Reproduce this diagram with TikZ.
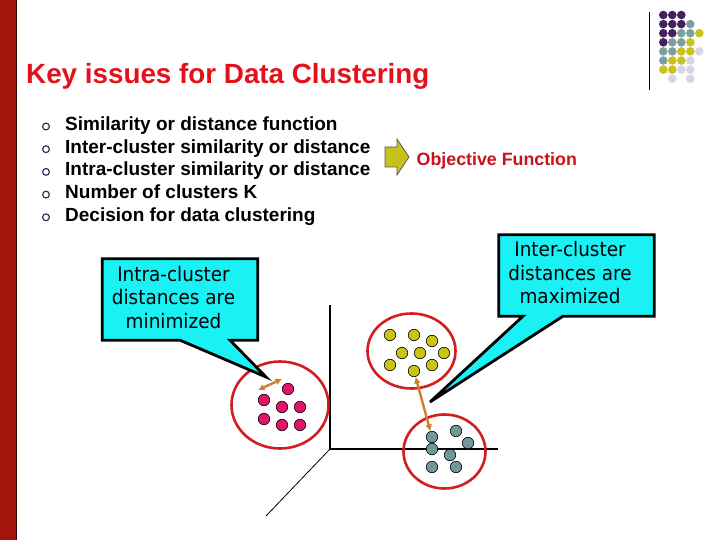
\documentclass[tikz,border=0pt]{standalone}
\usepackage{fontspec}
\setmainfont{Liberation Sans}
\newfontfamily\callfont{DejaVu Sans}[FakeStretch=0.92]
\usetikzlibrary{arrows.meta,shapes.geometric}
\definecolor{barred}{HTML}{A3140A}
\definecolor{bardark}{HTML}{3A0A05}
\definecolor{titlered}{HTML}{E2111C}
\definecolor{objred}{HTML}{CC1019}
\definecolor{bulletpurple}{HTML}{3D1A55}
\definecolor{logopurple}{HTML}{44215E}
\definecolor{logoteal}{HTML}{7D9FA0}
\definecolor{logoyellow}{HTML}{C8C21E}
\definecolor{logolav}{HTML}{D5D5E5}
\definecolor{callcyan}{HTML}{19F1F5}
\definecolor{ringred}{HTML}{D21E1E}
\definecolor{pinkdot}{HTML}{E3156B}
\definecolor{yellowdot}{HTML}{C9C415}
\definecolor{tealdot}{HTML}{6F9899}
\definecolor{arroworange}{HTML}{CD7F2E}
\definecolor{arrowyellow}{HTML}{C5C21A}

\begin{document}
\begin{tikzpicture}[x=1pt, y=-1pt, >={Latex[length=6.5pt,width=7pt]},
  item/.style={anchor=base west, inner sep=0pt, font=\bfseries\fontsize{19}{22}\selectfont},
  bulletring/.style={draw=bulletpurple, line width=1.1pt},
  ring/.style={ellipse, draw=ringred, line width=2.6pt, inner sep=0pt},
  dot/.style={circle, draw=black, line width=0.6pt, inner sep=0pt, minimum size=11.5pt},
  distarrow/.style={<->, draw=arroworange, line width=2.4pt},
  callbox/.style={inner sep=0pt, minimum width=155pt, minimum height=81pt},
  callout/.style={draw=black, fill=callcyan, line width=2.8pt},
  calltext/.style={align=center, font=\callfont\fontsize{20}{23.5}\selectfont}]

  \useasboundingbox (0,0) rectangle (720,540);

  % side bar and logo
  \fill[barred] (0,0) rectangle (15.7,540);
  \draw[bardark, line width=1pt] (16.2,0) -- (16.2,540);
  \draw[black, line width=1pt] (649.5,12) -- (649.5,90);
  \foreach \c/\r/\col in {0/0/logopurple, 1/0/logopurple, 2/0/logopurple,
      0/1/logopurple, 1/1/logopurple, 2/1/logopurple, 3/1/logoteal,
      0/2/logopurple, 1/2/logopurple, 2/2/logoteal, 3/2/logoteal, 4/2/logoyellow,
      0/3/logopurple, 1/3/logoteal, 2/3/logoteal, 3/3/logoyellow,
      0/4/logoteal, 1/4/logoteal, 2/4/logoyellow, 3/4/logoyellow, 4/4/logolav,
      0/5/logoteal, 1/5/logoyellow, 2/5/logoyellow, 3/5/logolav,
      0/6/logoyellow, 1/6/logoyellow, 2/6/logolav, 3/6/logolav,
      1/7/logolav, 3/7/logolav}
    \fill[\col] ({663.3+9*\c},{15+9.1*\r}) circle (4.3pt);

  % title and list
  \node[anchor=base west, inner sep=0pt, text=titlered, font=\bfseries\fontsize{27.8}{32}\selectfont]
    (title) at (26,83.5) {Key issues for Data Clustering};
  \foreach \txt [count=\i] in {Similarity or distance function, Inter-cluster similarity or distance,
      Intra-cluster similarity or distance, Number of clusters K, Decision for data clustering} {
    \node[item] (item\i) at (65,{130.5+22.7*(\i-1)}) {\txt};
    \draw[bulletring] ([xshift=-19pt,yshift=4pt]item\i.base west) circle (3.4pt);
  }

  \filldraw[draw=black!65, fill=arrowyellow, line width=0.8pt]
    (385,147) -- (397,147) -- (397,139) -- (409,157) -- (397,175) -- (397,167) -- (385,167) -- cycle;
  \node[anchor=base west, inner sep=0pt, text=objred, font=\bfseries\fontsize{17.8}{21}\selectfont]
    (objective) at (416.5,165.7) {Objective Function};

  % axes
  \coordinate (origin) at (330,449);
  \coordinate (yend) at (330,305);
  \coordinate (xend) at (498,449);
  \coordinate (zend) at (266,516);
  \draw[line width=1.3pt] (yend) -- (origin) -- (xend);
  \draw[line width=0.8pt] (origin) -- (zend);

  % clusters
  \node[ring, minimum width=97pt, minimum height=87pt] (pinkring) at (280,405) {};
  \node[ring, minimum width=88pt, minimum height=75pt] (yellowring) at (411.5,351) {};
  \node[ring, minimum width=82pt, minimum height=74pt] (tealring) at (444.5,451.5) {};
  \foreach \x/\y [count=\i] in {288/389, 264/400, 282/407, 300/407, 264/419, 282/425, 300/425}
    \node[dot, fill=pinkdot] (pink\i) at (\x,\y) {};
  \foreach \x/\y [count=\i] in {390/335, 414/335, 432/341, 402/353, 420/353, 444/353, 390/365, 432/365, 414/371}
    \node[dot, fill=yellowdot] (yel\i) at (\x,\y) {};
  \foreach \x/\y [count=\i] in {432/437, 432/449, 456/431, 468/443, 450/455, 432/467, 456/467}
    \node[dot, fill=tealdot] (teal\i) at (\x,\y) {};

  \coordinate (intraA) at (258,390);
  \coordinate (intraB) at (282,379);
  \draw[distarrow] (intraA) -- (intraB);
  \draw[distarrow] (yel9) -- (teal1);

  % callouts
  \node[callbox] (intra) at (180,299.5) {};
  \coordinate (intratip) at (266,377);
  \filldraw[callout] (intra.south west) -- (intra.north west) -- (intra.north east) -- (intra.south east)
    -- ([xshift=50pt]intra.south) -- (intratip) -- (intra.south) -- cycle;
  \node[calltext] (intratext) at (173.5,297.5) {Intra-cluster\\distances are\\minimized};

  \node[callbox] (inter) at (576.5,275.5) {};
  \coordinate (intertip) at (430,402);
  \filldraw[callout] (inter.south west) -- (inter.north west) -- (inter.north east) -- (inter.south east)
    -- ([xshift=-13.5pt]inter.south) -- (intertip) -- ([xshift=-53.5pt]inter.south) -- cycle;
  \node[calltext] (intertext) at (570,273) {Inter-cluster\\distances are\\maximized};
\end{tikzpicture}
\end{document}
